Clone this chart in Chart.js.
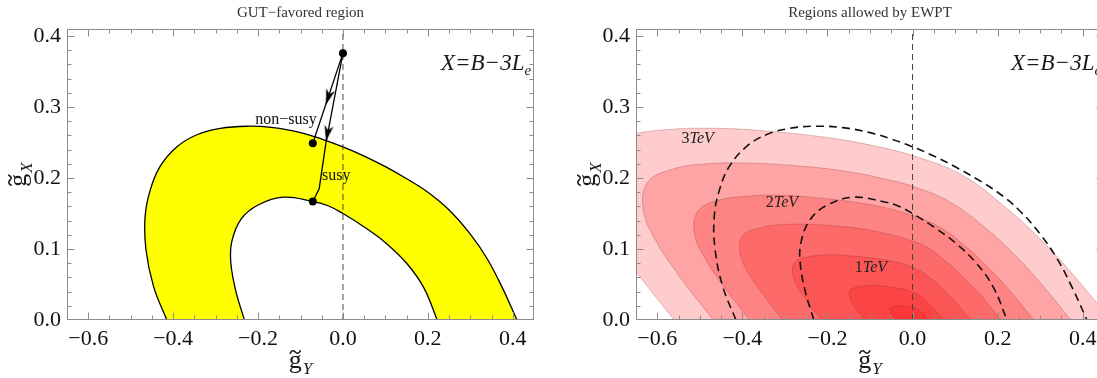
<!DOCTYPE html>
<html>
<head>
<meta charset="utf-8">
<script src="https://cdn.jsdelivr.net/npm/chart.js@4.4.0/dist/chart.umd.min.js"></script>
<style>
  html, body { margin: 0; padding: 0; background: #fff; overflow: hidden; }
  #wrap { position: relative; width: 1097px; height: 378px; overflow: hidden; }
  canvas { position: absolute; top: 0; }
  #gutChart { left: 0; }
  #ewptChart { left: 550px; }
</style>
</head>
<body>
<div id="wrap">
  <canvas id="gutChart" width="550" height="378"></canvas>
  <canvas id="ewptChart" width="570" height="378"></canvas>
</div>
<script>
// frame range and labelled ticks (g_Y across, g_X up)
const xRange = [-0.65, 0.45];
const yRange = [0, 0.41];
const xTicks = [-0.6, -0.4, -0.2, 0.0, 0.2, 0.4];
const yTicks = [0.0, 0.1, 0.2, 0.3, 0.4];

// edges of the GUT-favoured band, [g_Y, g_X]
const outerEdge = [
  [-0.415, 0], [-0.446, 0.047], [-0.464, 0.099], [-0.466, 0.146], [-0.454, 0.183],
  [-0.431, 0.216], [-0.391, 0.244], [-0.344, 0.261], [-0.289, 0.270], [-0.227, 0.273],
  [-0.164, 0.271], [-0.10, 0.264], [-0.05, 0.255], [0, 0.244], [0.05, 0.231],
  [0.10, 0.216], [0.15, 0.199], [0.20, 0.180], [0.25, 0.155], [0.30, 0.121],
  [0.34, 0.086], [0.375, 0.046], [0.410, 0]
];
const innerEdge = [
  [-0.232, 0], [-0.252, 0.040], [-0.264, 0.080], [-0.262, 0.110], [-0.240, 0.142],
  [-0.200, 0.162], [-0.140, 0.173], [-0.071, 0.167], [-0.035, 0.161], [0, 0.150],
  [0.05, 0.131], [0.10, 0.109], [0.15, 0.080], [0.19, 0.046], [0.222, 0]
];

// running from the unification point down to the band
const gutPoints = [[0, 0.376], [-0.071, 0.249], [-0.071, 0.167]];
const nonSusyRun = [[0, 0.376], [-0.071, 0.249]];
const susyRun = [[0, 0.376], [-0.040, 0.250], [-0.056, 0.185], [-0.071, 0.167]];
const arrowAt = [[-0.034, 0.315], [-0.036, 0.264]];
const arrowTurn = [198, 191];

// EWPT allowed regions, outermost (3 TeV) first
const ewpt1 = [
  [-0.56, 0], [-0.62, 0.045], [-0.67, 0.085], [-0.72, 0.13], [-0.76, 0.185], [-0.75, 0.235],
  [-0.68, 0.258], [-0.58, 0.268], [-0.46, 0.270], [-0.34, 0.266], [-0.20, 0.257], [-0.08, 0.244],
  [0.02, 0.228], [0.12, 0.203], [0.22, 0.158], [0.31, 0.108], [0.39, 0.055], [0.465, 0]
];
const ewpt2 = [
  [-0.468, 0], [-0.517, 0.037], [-0.558, 0.070], [-0.599, 0.107], [-0.632, 0.152], [-0.624, 0.193],
  [-0.567, 0.212], [-0.485, 0.220], [-0.386, 0.221], [-0.288, 0.218], [-0.173, 0.211], [-0.075, 0.200],
  [0.007, 0.187], [0.089, 0.166], [0.171, 0.130], [0.245, 0.089], [0.311, 0.045], [0.372, 0]
];
const ewpt3 = [
  [-0.382, 0], [-0.421, 0.029], [-0.453, 0.055], [-0.486, 0.085], [-0.512, 0.120], [-0.505, 0.153],
  [-0.460, 0.168], [-0.395, 0.174], [-0.317, 0.176], [-0.239, 0.173], [-0.148, 0.167], [-0.070, 0.159],
  [-0.004, 0.148], [0.061, 0.132], [0.126, 0.103], [0.184, 0.070], [0.236, 0.036], [0.285, 0]
];
const ewpt4 = [
  [-0.305, 0], [-0.335, 0.023], [-0.360, 0.043], [-0.385, 0.065], [-0.405, 0.093], [-0.400, 0.118],
  [-0.365, 0.129], [-0.315, 0.134], [-0.255, 0.135], [-0.195, 0.133], [-0.125, 0.129], [-0.065, 0.122],
  [-0.015, 0.114], [0.035, 0.102], [0.085, 0.079], [0.130, 0.054], [0.170, 0.028], [0.208, 0]
];
const ewpt5 = [
  [-0.213, 0], [-0.234, 0.015], [-0.251, 0.029], [-0.268, 0.044], [-0.281, 0.063], [-0.278, 0.080],
  [-0.254, 0.088], [-0.220, 0.091], [-0.179, 0.092], [-0.139, 0.090], [-0.091, 0.087], [-0.050, 0.083],
  [-0.016, 0.078], [0.018, 0.069], [0.052, 0.054], [0.082, 0.037], [0.110, 0.019], [0.135, 0]
];
const ewpt6 = [
  [-0.112, 0], [-0.123, 0.008], [-0.132, 0.015], [-0.141, 0.023], [-0.148, 0.033], [-0.146, 0.042],
  [-0.133, 0.046], [-0.115, 0.048], [-0.094, 0.049], [-0.072, 0.048], [-0.047, 0.046], [-0.025, 0.044],
  [-0.007, 0.041], [0.011, 0.037], [0.029, 0.028], [0.045, 0.019], [0.059, 0.010], [0.073, 0]
];
const ewpt7 = [
  [-0.038, 0], [-0.047, 0.006], [-0.053, 0.014], [-0.047, 0.019], [-0.031, 0.020],
  [-0.011, 0.019], [0.005, 0.017], [0.020, 0.012], [0.033, 0.004], [0.039, 0]
];
const ewptRegions = [ewpt1, ewpt2, ewpt3, ewpt4, ewpt5, ewpt6, ewpt7];

// mass labels inside the regions
const tevLabels = [['3', -0.505, 0.255], ['2', -0.307, 0.165], ['1', -0.098, 0.073]];

const serif = '"Liberation Serif", "Times New Roman", serif';
const xy = pts => pts.map(([x, y]) => ({ x, y }));
const fmtTick = v => (v < 0 ? '\u2212' : '') + Math.abs(v).toFixed(1);
const zeroLine = [[0, yRange[0]], [0, yRange[1]]];

// band outline closed along g_X = 0 (corner points doubled so the spline keeps the corners)
const lastOuter = outerEdge[outerEdge.length - 1];
const lastInner = innerEdge[innerEdge.length - 1];
const bandShape = [...outerEdge, lastOuter, lastInner, ...innerEdge.slice().reverse()];

function arrowHead() {
  const c = document.createElement('canvas');
  c.width = 10; c.height = 18;
  const g = c.getContext('2d');
  g.fillStyle = '#000';
  g.beginPath();
  g.moveTo(5, 0); g.lineTo(9.5, 16); g.lineTo(5, 11.5); g.lineTo(0.5, 16);
  g.closePath();
  g.fill();
  return c;
}

function frameAxes(yAxisWidth) {
  const tickFont = { family: serif, size: 22 };
  return {
    x: {
      type: 'linear', min: xRange[0], max: xRange[1],
      grid: { display: false, drawTicks: false },
      border: { display: false },
      ticks: { padding: 6, color: '#111', font: tickFont, maxRotation: 0, autoSkip: false, callback: fmtTick },
      afterBuildTicks: s => { s.ticks = xTicks.map(v => ({ value: v })); },
      afterFit: s => { s.height = 58; }
    },
    y: {
      type: 'linear', min: yRange[0], max: yRange[1],
      grid: { display: false, drawTicks: false },
      border: { display: false },
      ticks: { padding: 6, color: '#111', font: tickFont, autoSkip: false, callback: fmtTick },
      afterBuildTicks: s => { s.ticks = yTicks.map(v => ({ value: v })); },
      afterFit: s => { s.width = yAxisWidth; }
    }
  };
}

// gray frame with inward ticks on all four sides
const frameTicks = {
  id: 'frameTicks',
  afterDatasetsDraw(chart) {
    const { ctx, chartArea: a, scales: { x, y } } = chart;
    const L = Math.round(a.left) + 0.5, R = Math.round(a.right) - 0.5;
    const T = Math.round(a.top) + 0.5, B = Math.round(a.bottom) - 0.5;
    ctx.save();
    ctx.strokeStyle = '#8c8c8c';
    ctx.lineWidth = 1;
    ctx.strokeRect(L, T, R - L, B - T);
    ctx.beginPath();
    for (let i = 1; i < 22; i++) {
      const v = xRange[0] + i * 0.05;
      const major = xTicks.some(t => Math.abs(t - v) < 1e-6);
      const len = major ? 7 : 4;
      const px = Math.round(x.getPixelForValue(v)) + 0.5;
      ctx.moveTo(px, B); ctx.lineTo(px, B - len);
      ctx.moveTo(px, T); ctx.lineTo(px, T + len);
    }
    for (let i = 1; i <= 20; i++) {
      const v = i * 0.02;
      const major = yTicks.some(t => Math.abs(t - v) < 1e-6);
      const len = major ? 7 : 4;
      const py = Math.round(y.getPixelForValue(v)) + 0.5;
      ctx.moveTo(L, py); ctx.lineTo(L + len, py);
      ctx.moveTo(R, py); ctx.lineTo(R - len, py);
    }
    ctx.stroke();
    ctx.restore();
  }
};

// g with a tilde and an italic subscript, centred on cx
function drawCoupling(ctx, cx, base, sub) {
  ctx.font = `26px ${serif}`;
  const gw = ctx.measureText('g').width;
  ctx.font = `italic 17px ${serif}`;
  const sw = ctx.measureText(sub).width;
  const x0 = cx - (gw + sw + 1) / 2;
  ctx.textAlign = 'left';
  ctx.textBaseline = 'alphabetic';
  ctx.font = `26px ${serif}`;
  ctx.fillText('g', x0, base);
  // tilde over the g
  const tx = x0 + gw / 2, ty = base - 16;
  ctx.save();
  ctx.strokeStyle = ctx.fillStyle;
  ctx.lineWidth = 1.6;
  ctx.lineCap = 'round';
  ctx.beginPath();
  ctx.moveTo(tx - 5, ty + 1.2);
  ctx.bezierCurveTo(tx - 3.5, ty - 2, tx - 1.5, ty - 1.6, tx, ty);
  ctx.bezierCurveTo(tx + 1.5, ty + 1.6, tx + 3.5, ty + 2, tx + 5, ty - 1.2);
  ctx.stroke();
  ctx.restore();
  ctx.font = `italic 17px ${serif}`;
  ctx.fillText(sub, x0 + gw + 1, base + 6);
}

function textLayer(title, extra) {
  return {
    id: 'textLayer',
    afterDraw(chart) {
      const { ctx, chartArea: a } = chart;
      const mid = (a.left + a.right) / 2;
      ctx.save();
      ctx.fillStyle = '#333';
      ctx.font = `15px ${serif}`;
      ctx.textAlign = 'center';
      ctx.textBaseline = 'alphabetic';
      ctx.fillText(title, mid, 17);

      ctx.fillStyle = '#1a1a1a';
      drawCoupling(ctx, mid, 368, 'Y');
      ctx.save();
      ctx.translate(a.left - 41, (a.top + a.bottom) / 2);
      ctx.rotate(-Math.PI / 2);
      drawCoupling(ctx, 0, 0, 'X');
      ctx.restore();

      // charge assignment
      const main = 'X=B\u22123L';
      ctx.textAlign = 'left';
      ctx.font = `italic 23px ${serif}`;
      ctx.fillText(main, a.right - 93, 70);
      const w = ctx.measureText(main).width;
      ctx.font = `italic 15px ${serif}`;
      ctx.fillText('e', a.right - 93 + w, 75);

      extra(chart, ctx);
      ctx.restore();
    }
  };
}

const baseOptions = yAxisWidth => ({
  animation: false,
  responsive: false,
  devicePixelRatio: 1,
  events: [],
  layout: { padding: { left: 0, right: 16, top: 29, bottom: 0 }, autoPadding: false },
  elements: { point: { radius: 0 }, line: { tension: 0.4 } },
  plugins: { legend: { display: false }, tooltip: { enabled: false } },
  scales: frameAxes(yAxisWidth)
});

// left panel: GUT-favoured band
new Chart(document.getElementById('gutChart'), {
  type: 'line',
  data: {
    datasets: [
      { data: xy(gutPoints), showLine: false, pointRadius: 4, pointBackgroundColor: '#000', pointBorderWidth: 0, order: 0 },
      { data: xy(arrowAt), showLine: false, pointRadius: 6, pointStyle: arrowHead(), pointRotation: arrowTurn, order: 1 },
      { data: xy(nonSusyRun), borderColor: '#000', borderWidth: 1.3, tension: 0, order: 2 },
      { data: xy(susyRun), borderColor: '#000', borderWidth: 1.3, tension: 0, order: 2 },
      { data: xy(zeroLine), borderColor: '#444', borderWidth: 1, borderDash: [6, 4], tension: 0, order: 3 },
      { data: xy(outerEdge), borderColor: '#000', borderWidth: 1.3, order: 4 },
      { data: xy(innerEdge), borderColor: '#000', borderWidth: 1.3, order: 4 },
      { data: xy(bandShape), borderWidth: 0, borderColor: 'rgba(0,0,0,0)', backgroundColor: '#ffff00', fill: 'shape', order: 5 }
    ]
  },
  options: baseOptions(67),
  plugins: [frameTicks, textLayer('GUT\u2212favored region', (chart, ctx) => {
    const { x, y } = chart.scales;
    ctx.fillStyle = '#111';
    ctx.font = `16px ${serif}`;
    ctx.textAlign = 'center';
    ctx.textBaseline = 'middle';
    ctx.fillText('non\u2212susy', x.getPixelForValue(-0.134), y.getPixelForValue(0.282));
    ctx.fillText('susy', x.getPixelForValue(-0.016), y.getPixelForValue(0.203));
  })]
});

// right panel: EWPT regions with the GUT band edges dashed on top
const regionSets = ewptRegions.map((pts, i) => ({
  data: xy(pts),
  backgroundColor: 'rgba(250,0,0,0.2)',
  borderColor: 'rgba(130,40,40,0.35)',
  borderWidth: 0.8,
  fill: 'shape',
  order: 10 - i
}));

new Chart(document.getElementById('ewptChart'), {
  type: 'line',
  data: {
    datasets: [
      { data: xy(zeroLine), borderColor: '#444', borderWidth: 1, borderDash: [6, 4], tension: 0, order: 0 },
      { data: xy(outerEdge), borderColor: '#111', borderWidth: 1.6, borderDash: [8, 5], order: 1 },
      { data: xy(innerEdge), borderColor: '#111', borderWidth: 1.6, borderDash: [8, 5], order: 1 },
      ...regionSets
    ]
  },
  options: baseOptions(86),
  plugins: [frameTicks, textLayer('Regions allowed by EWPT', (chart, ctx) => {
    const { x, y } = chart.scales;
    ctx.fillStyle = '#222';
    ctx.textBaseline = 'middle';
    tevLabels.forEach(([n, gy, gx]) => {
      ctx.font = `16px ${serif}`;
      const nw = ctx.measureText(n).width;
      ctx.font = `italic 16px ${serif}`;
      const tw = ctx.measureText('TeV').width;
      const x0 = x.getPixelForValue(gy) - (nw + tw) / 2;
      const py = y.getPixelForValue(gx);
      ctx.textAlign = 'left';
      ctx.font = `16px ${serif}`;
      ctx.fillText(n, x0, py);
      ctx.font = `italic 16px ${serif}`;
      ctx.fillText('TeV', x0 + nw, py);
    });
  })]
});
</script>
</body>
</html>
